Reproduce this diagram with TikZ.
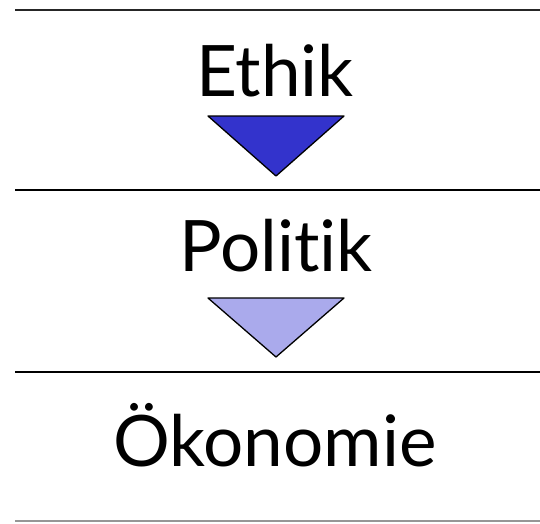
\documentclass[tikz,border=0pt]{standalone}
\usepackage{fontspec}
\setmainfont{Lato}[Ligatures={NoCommon,NoRare}]
\definecolor{arrowdark}{RGB}{51,51,204}
\definecolor{arrowlight}{RGB}{170,170,236}
\definecolor{rulegray}{RGB}{150,150,150}
\begin{document}
\begin{tikzpicture}[x=1pt,y=-1pt,
  rule/.style={line width=2.2pt,draw=black!85},
  label/.style={anchor=base,inner sep=0pt,font=\fontsize{71}{80}\selectfont},
  arrowhead/.style={draw=black,line width=1.3pt,line join=round}]
  \useasboundingbox (0,0) rectangle (540,523);
  % separating rules
  \draw[rule] (15,10) -- (540,10);
  \draw[rule,draw=black] (15,190) -- (540,190);
  \draw[rule,draw=black] (15,372) -- (540,372);
  \draw[line width=1.6pt,draw=rulegray] (15,521) -- (540,521);
  % stage labels
  \node[label] (ethik) at (275,96) {Ethik};
  \node[label] (politik) at (276,271) {Politik};
  \node[label] (oekonomie) at (275,466) {Ökonomie};
  % downward arrows between stages
  \draw[arrowhead,fill=arrowdark] (208,116) -- (344,116) -- (276,176) -- cycle;
  \draw[arrowhead,fill=arrowlight] (208,298) -- (344,298) -- (276,357) -- cycle;
\end{tikzpicture}
\end{document}
